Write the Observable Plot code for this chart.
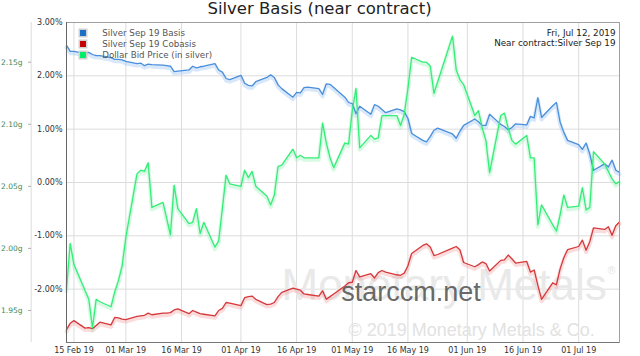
<!DOCTYPE html>
<html><head><meta charset="utf-8">
<script src="https://cdn.jsdelivr.net/npm/d3@7"></script>
<script src="https://cdn.jsdelivr.net/npm/@observablehq/plot@0.6"></script>
<style>
html,body{margin:0;padding:0;background:#fff;}
#chart{width:640px;height:356px;overflow:hidden}
svg{display:block}
</style></head><body><div id="chart"></div>
<script>
const dates = [
"2019-02-13","2019-02-14","2019-02-15","2019-02-18","2019-02-19","2019-02-20","2019-02-21","2019-02-22","2019-02-25","2019-02-26","2019-02-27","2019-02-28",
"2019-03-01","2019-03-04","2019-03-05","2019-03-06","2019-03-07","2019-03-08","2019-03-11","2019-03-12","2019-03-13","2019-03-14","2019-03-15","2019-03-18","2019-03-19","2019-03-20","2019-03-21","2019-03-22","2019-03-25","2019-03-26","2019-03-27","2019-03-28","2019-03-29",
"2019-04-01","2019-04-02","2019-04-03","2019-04-04","2019-04-05","2019-04-08","2019-04-09","2019-04-10","2019-04-11","2019-04-12","2019-04-15","2019-04-16","2019-04-17","2019-04-18","2019-04-19","2019-04-22","2019-04-23","2019-04-24","2019-04-25","2019-04-26","2019-04-29","2019-04-30",
"2019-05-01","2019-05-02","2019-05-03","2019-05-06","2019-05-07","2019-05-08","2019-05-09","2019-05-10","2019-05-13","2019-05-14","2019-05-15","2019-05-16","2019-05-17","2019-05-20","2019-05-21","2019-05-22","2019-05-23","2019-05-24","2019-05-28","2019-05-29","2019-05-30","2019-05-31",
"2019-06-03","2019-06-04","2019-06-05","2019-06-06","2019-06-07","2019-06-10","2019-06-11","2019-06-12","2019-06-13","2019-06-14","2019-06-17","2019-06-18","2019-06-19","2019-06-20","2019-06-21","2019-06-24","2019-06-25","2019-06-26","2019-06-27","2019-06-28",
"2019-07-01","2019-07-02","2019-07-03","2019-07-04","2019-07-05","2019-07-08","2019-07-09","2019-07-10","2019-07-11","2019-07-12"];

// Silver Sep 19 Basis (%)
const basis = [
2.57,2.46,2.46,2.42,2.44,2.40,2.38,2.38,2.34,2.31,2.31,2.30,
2.27,2.23,2.24,2.19,2.22,2.21,2.20,2.19,2.18,2.08,2.09,2.11,2.18,2.15,2.17,2.18,2.23,2.11,2.07,1.95,1.93,
2.01,1.86,1.82,1.81,1.89,1.97,2.02,1.97,1.83,1.76,1.60,1.69,1.68,1.78,1.79,1.76,1.65,1.85,1.84,1.78,1.60,1.50,
1.48,1.29,1.43,1.28,1.46,1.43,1.37,1.31,1.38,1.36,1.33,1.20,0.92,0.79,0.76,0.86,0.98,1.02,0.91,0.83,0.96,1.07,
1.19,1.14,1.07,1.07,1.28,1.09,1.05,0.99,1.03,1.10,1.08,1.24,1.21,1.59,1.22,1.44,1.50,1.13,0.94,0.79,
0.71,0.62,0.74,0.53,0.23,0.35,0.29,0.42,0.23,0.19];

// Silver Sep 19 Cobasis (%)
const cobasis = [
-2.76,-2.64,-2.59,-2.73,-2.72,-2.74,-2.68,-2.62,-2.67,-2.53,-2.54,-2.56,
-2.57,-2.51,-2.50,-2.49,-2.45,-2.48,-2.45,-2.45,-2.44,-2.39,-2.37,-2.46,-2.40,-2.43,-2.46,-2.47,-2.50,-2.40,-2.36,-2.25,-2.26,
-2.31,-2.16,-2.14,-2.13,-2.19,-2.29,-2.28,-2.25,-2.14,-2.06,-1.98,-2.00,-2.02,-2.09,-2.10,-2.13,-2.03,-2.19,-2.14,-2.09,-1.94,-1.88,
-1.87,-1.65,-1.77,-1.71,-1.79,-1.69,-1.65,-1.68,-1.73,-1.74,-1.70,-1.56,-1.33,-1.18,-1.15,-1.21,-1.37,-1.35,-1.23,-1.20,-1.26,-1.50,
-1.58,-1.54,-1.49,-1.52,-1.66,-1.46,-1.45,-1.36,-1.43,-1.51,-1.48,-1.68,-1.64,-1.93,-2.19,-1.88,-1.92,-1.62,-1.41,-1.26,
-1.20,-1.08,-1.27,-1.11,-0.85,-0.88,-0.83,-0.99,-0.81,-0.74];

// Dollar Bid Price (in silver), grams
const dollarBid = [
1.967,2.004,1.987,1.966,1.959,1.936,1.959,1.957,1.953,1.965,1.974,1.986,
2.009,2.060,2.063,2.062,2.069,2.033,2.037,2.024,2.011,2.051,2.032,2.020,2.021,2.032,2.012,2.021,2.001,2.006,2.032,2.059,2.052,
2.050,2.063,2.057,2.062,2.050,2.042,2.035,2.043,2.066,2.067,2.080,2.073,2.075,2.073,2.073,2.073,2.101,2.085,2.073,2.065,2.085,2.084,
2.111,2.129,2.081,2.091,2.088,2.089,2.107,2.107,2.107,2.099,2.108,2.129,2.154,2.150,2.150,2.147,2.125,2.134,2.171,2.144,2.136,2.132,
2.107,2.111,2.097,2.087,2.061,2.107,2.109,2.097,2.087,2.084,2.091,2.073,2.073,2.019,2.035,2.019,2.014,2.027,2.043,2.033,
2.034,2.049,2.031,2.033,2.078,2.068,2.062,2.056,2.052,2.054];

const xTickDates = ["2019-02-15","2019-03-01","2019-03-16","2019-04-01","2019-04-16","2019-05-01","2019-05-16","2019-06-01","2019-06-16","2019-07-01"];
const pctTicks = [-2, -1, 0, 1, 2, 3];
const gramTicks = [1.95, 2.00, 2.05, 2.10, 2.15];
const legendLabels = ["Silver Sep 19 Basis", "Silver Sep 19 Cobasis", "Dollar Bid Price (in silver)"];
const legendColors = ["#1b6fc4", "#c40000", "#00ee66"];
const lineColors = ["#4a8fdb", "#d6393b", "#33ee77"];
const shadowColors = ["#8fbdf0", "#f09a9a", "#8ff0b5"];
const titleText = "Silver Basis (near contract)";
const infoLines = ["Fri, Jul 12, 2019", "Near contract:Silver Sep 19"];

// secondary (grams) axis mapped onto the percent axis
const g2p = g => -2.399 + (g - 1.95) * 23.273;
const p2g = p => 1.95 + (p + 2.399) / 23.273;

const parse = d3.utcParse("%Y-%m-%d");
const rows = dates.map((d, i) => ({date: parse(d), basis: basis[i], cobasis: cobasis[i], bid: g2p(dollarBid[i])}));
const xt = xTickDates.map(parse);

const series = ["basis", "cobasis", "bid"];
const lineMarks = [];
series.forEach((k, i) => {
  lineMarks.push(Plot.line(rows, {x: "date", y: k, stroke: shadowColors[i], strokeWidth: 4, strokeOpacity: 0.35, dy: 2}));
});
series.forEach((k, i) => {
  lineMarks.push(Plot.line(rows, {x: "date", y: k, stroke: lineColors[i], strokeWidth: 1.3}));
});

const legendMarks = [];
legendLabels.forEach((lab, i) => {
  legendMarks.push(Plot.dot([lab], {frameAnchor: "top-left", dx: 16.5, dy: 10.5 + i * 11, symbol: "square", r: 4.2, fill: legendColors[i], stroke: "#d0d0d0", strokeWidth: 1.5}));
  legendMarks.push(Plot.text([lab], {frameAnchor: "top-left", text: d => d, dx: 35.7, dy: 13 + i * 11, textAnchor: "start", lineAnchor: "bottom", fontSize: 8.7, fill: "#555"}));
});
infoLines.forEach((t, i) => {
  legendMarks.push(Plot.text([t], {frameAnchor: "top-right", text: d => d, dx: -4, dy: 13 + i * 10.7, textAnchor: "end", lineAnchor: "bottom", fontSize: 8.8, fill: "#222"}));
});

const chart = Plot.plot({
  width: 640, height: 356,
  marginLeft: 66, marginRight: 21, marginTop: 22, marginBottom: 14,
  style: {fontFamily: "DejaVu Sans", fontSize: "8px", background: "#fff"},
  x: {type: "utc", domain: d3.extent(rows, d => d.date), axis: null, label: null},
  y: {domain: [-3, 3], axis: null, label: null},
  marks: [
    Plot.gridX(xt, {stroke: "#dcdcdc", strokeOpacity: 1}),
    Plot.gridY(pctTicks, {stroke: "#dcdcdc", strokeOpacity: 1}),
    Plot.text(["Monetary Metals"], {frameAnchor: "top-left", text: d => d, dx: 215, dy: 277, textAnchor: "start", lineAnchor: "bottom", fontSize: 44, fontFamily: "Liberation Sans", fill: "#e9e9e9"}),
    Plot.text(["®"], {frameAnchor: "top-left", text: d => d, dx: 545, dy: 251, textAnchor: "middle", lineAnchor: "bottom", fontSize: 10, fill: "#e6e6e6"}),
    Plot.text(["© 2019 Monetary Metals & Co."], {frameAnchor: "top-left", text: d => d, dx: 282, dy: 313, textAnchor: "start", lineAnchor: "bottom", fontSize: 18, fontFamily: "Liberation Sans", fill: "#e2e2e2"}),
    ...lineMarks,
    Plot.text(["starccm.net"], {frameAnchor: "top-left", text: d => d, dx: 274.7, dy: 278.7, textAnchor: "start", lineAnchor: "bottom", fontSize: 27, fontFamily: "Liberation Sans", fill: "#555", fillOpacity: 0.9}),
    Plot.frame({stroke: "#a0a0a0"}),
    Plot.ruleX([rows[0].date], {stroke: "#666"}),
    Plot.ruleY([-3], {stroke: "#777"}),
    Plot.ruleX([rows[0].date], {dx: -35.3, stroke: "#dcdcdc"}),
    Plot.axisX(xt, {tickSize: 0, tickPadding: 5, tickFormat: d3.utcFormat("%d %b %y"), fill: "#333", label: null}),
    Plot.axisY(pctTicks, {anchor: "left", tickSize: 0, tickPadding: 4, tickFormat: d => d.toFixed(2) + "%", fill: "#333", label: null}),
    Plot.axisY(gramTicks.map(g2p), {anchor: "left", tickSize: 3, tickPadding: 6, dx: -35, tickFormat: p => p2g(p).toFixed(2) + "g", fill: "#3a8a5a", stroke: "#aaa", fontSize: 7.5, label: null}),
    ...legendMarks,
    Plot.text([titleText], {frameAnchor: "top-left", text: d => d, dx: 253, dy: -8.3, textAnchor: "middle", lineAnchor: "bottom", fontSize: 16.5, fill: "#222"})
  ]
});
document.getElementById("chart").appendChild(chart);
</script>
</body></html>
